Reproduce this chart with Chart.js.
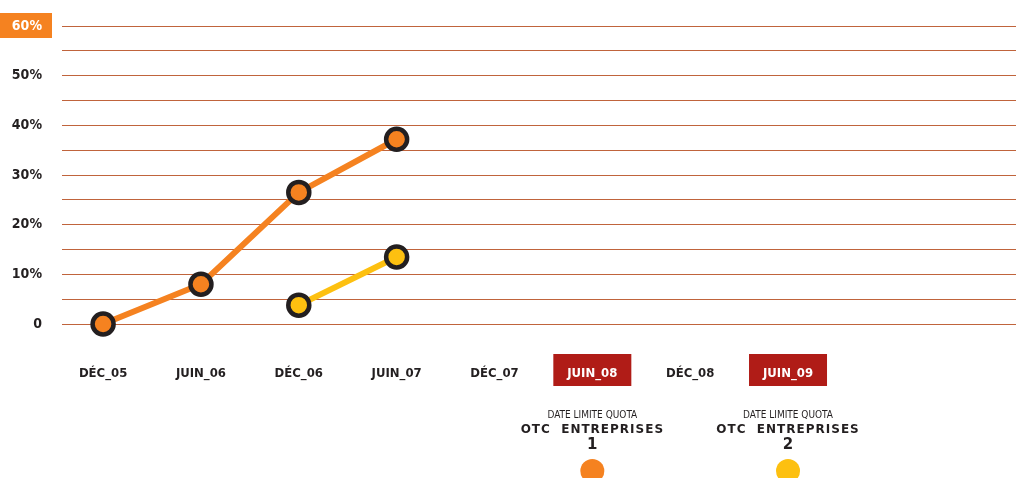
<!DOCTYPE html>
<html>
<head>
<meta charset="utf-8">
<script src="https://cdn.jsdelivr.net/npm/chart.js@4/dist/chart.umd.min.js"></script>
<style>
  html, body { margin: 0; padding: 0; background: #fff; overflow: hidden; }
  canvas { display: block; }
</style>
</head>
<body>
<canvas id="myChart" width="1016" height="478"></canvas>
<script>
// données
const periodes = ["DÉC_05", "JUIN_06", "DÉC_06", "JUIN_07", "DÉC_07", "JUIN_08", "DÉC_08", "JUIN_09"];
const serieOrange = [0, 8, 26.5, 37.2];
const serieJaune = [null, null, 3.8, 13.5];
const periodesLimite = ["JUIN_08", "JUIN_09"];
const legendeLigne1 = "DATE LIMITE QUOTA";
const legendeLigne2 = "OTC  ENTREPRISES";
const legendeNumeros = ["1", "2"];

const ORANGE = "#f58220";
const JAUNE = "#fdc010";
const ROUGE = "#b01c17";
const NOIR = "#231f20";
const GRILLE = "#c0643c";
const police = "'DejaVu Sans Condensed', 'DejaVu Sans', sans-serif";

const toPoints = (serie) =>
  serie.map((v, i) => ({ x: i, y: v })).filter((p) => p.y !== null);

// boîtes colorées derrière certaines étiquettes + légende du bas
const decor = {
  id: "decor",
  beforeDraw(chart) {
    const { ctx, scales } = chart;
    const x = scales.x;
    const y = scales.y;
    ctx.save();
    // boîte 60%
    const y60 = y.getPixelForValue(60);
    ctx.fillStyle = ORANGE;
    ctx.fillRect(0, y60 - 13, 52, 25);
    // boîtes des échéances
    ctx.fillStyle = ROUGE;
    periodesLimite.forEach((p) => {
      const px = x.getPixelForValue(periodes.indexOf(p));
      ctx.fillRect(px - 39, 354, 78, 32);
    });
    ctx.restore();
  },
  afterDraw(chart) {
    const { ctx, scales } = chart;
    const x = scales.x;
    ctx.save();
    ctx.textAlign = "center";
    ctx.textBaseline = "middle";
    const couleurs = [ORANGE, JAUNE];
    periodesLimite.forEach((p, i) => {
      const px = x.getPixelForValue(periodes.indexOf(p));
      ctx.fillStyle = NOIR;
      ctx.letterSpacing = "0px";
      ctx.font = "10px " + police;
      ctx.fillText(legendeLigne1, px, 415);
      ctx.letterSpacing = "1px";
      ctx.font = "bold 12px 'DejaVu Sans', sans-serif";
      ctx.fillText(legendeLigne2, px, 430);
      ctx.letterSpacing = "0px";
      ctx.font = "bold 15px 'DejaVu Sans', sans-serif";
      ctx.fillText(legendeNumeros[i], px, 445);
      ctx.fillStyle = couleurs[i];
      ctx.beginPath();
      ctx.arc(px, 471, 12, 0, Math.PI * 2);
      ctx.fill();
    });
    ctx.restore();
  },
};

const estLimite = (v) => periodesLimite.includes(periodes[v]);

new Chart(document.getElementById("myChart"), {
  type: "line",
  data: {
    datasets: [
      {
        data: toPoints(serieOrange),
        borderColor: ORANGE,
        backgroundColor: ORANGE,
        borderWidth: 6,
        pointRadius: 10.5,
        pointBorderWidth: 4.5,
        pointBorderColor: NOIR,
        pointBackgroundColor: ORANGE,
        clip: false,
      },
      {
        data: toPoints(serieJaune),
        borderColor: JAUNE,
        backgroundColor: JAUNE,
        borderWidth: 6,
        pointRadius: 10.5,
        pointBorderWidth: 4.5,
        pointBorderColor: NOIR,
        pointBackgroundColor: JAUNE,
        clip: false,
      },
    ],
  },
  options: {
    responsive: false,
    animation: false,
    layout: { autoPadding: false, padding: { top: 26, right: 0, left: 0, bottom: 0 } },
    plugins: { legend: { display: false }, tooltip: { enabled: false } },
    scales: {
      x: {
        type: "linear",
        min: -0.42,
        max: 9.33,
        afterBuildTicks: (axis) => {
          axis.ticks = periodes.map((p, i) => ({ value: i }));
        },
        afterFit: (axis) => {
          axis.height = 154;
          axis.paddingLeft = 0;
          axis.paddingRight = 0;
        },
        grid: { display: false },
        border: { display: false },
        ticks: {
          autoSkip: false,
          maxRotation: 0,
          padding: 34,
          callback: (v) => periodes[v],
          color: (c) => (estLimite(c.tick.value) ? "#ffffff" : NOIR),
          font: { family: police, size: 13, weight: "bold" },
        },
      },
      y: {
        min: 0,
        max: 60,
        afterFit: (axis) => {
          axis.width = 62;
          axis.paddingTop = 0;
          axis.paddingBottom = 0;
        },
        grid: { color: GRILLE, lineWidth: 1, drawTicks: false },
        border: { display: false },
        ticks: {
          stepSize: 5,
          padding: 20,
          callback: (v) => (v % 10 !== 0 ? "" : v === 0 ? "0" : v + "%"),
          color: (c) => (c.tick.value === 60 ? "#ffffff" : NOIR),
          font: { family: police, size: 14, weight: "bold" },
        },
      },
    },
  },
  plugins: [decor],
});
</script>
</body>
</html>
